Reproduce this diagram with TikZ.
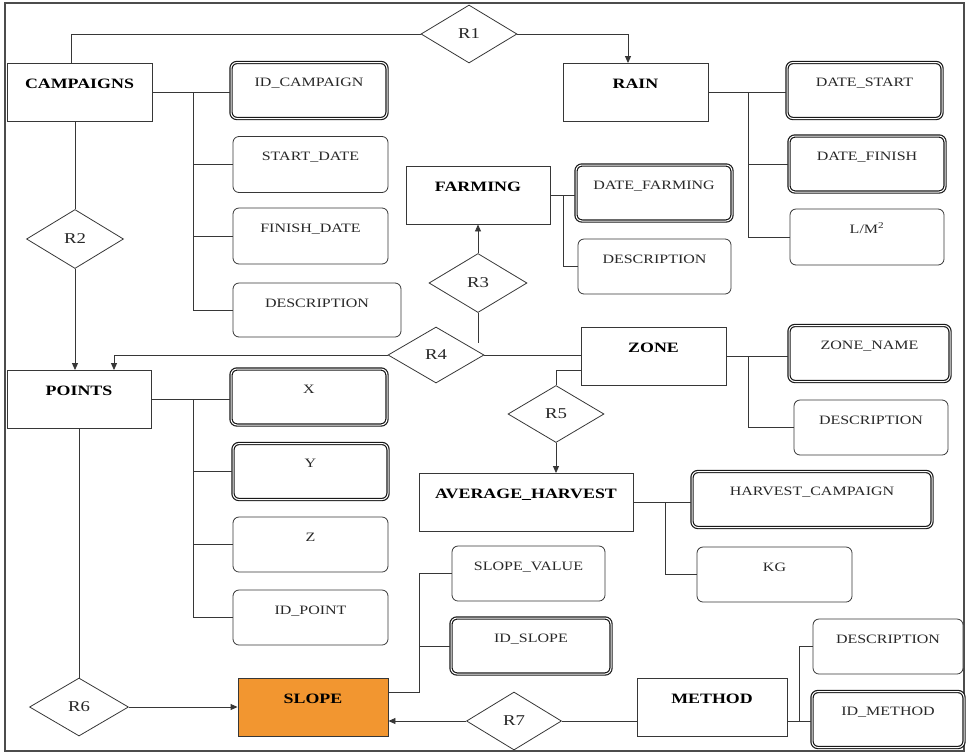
\documentclass[tikz,border=0pt]{standalone}
\usepackage{fontspec}
\setmainfont{Liberation Serif}[FakeStretch=1.25]
\usetikzlibrary{shapes.geometric,arrows.meta,calc}
\definecolor{ln}{RGB}{55,55,55}
\definecolor{txt}{RGB}{40,40,40}
\definecolor{slopeor}{RGB}{242,150,48}
\begin{document}
\begin{tikzpicture}[x=1pt,y=-1pt,
  every node/.style={inner sep=0pt},
  conn/.style={draw=ln, line width=0.9pt},
  arr/.style={conn, -{Triangle[length=7pt,width=6pt]}},
  ent/.style={draw=ln, line width=0.9pt, fill=white, text=black,
    font=\fontsize{14.3}{16}\selectfont\bfseries, text height=25pt, text depth=33pt},
  att/.style={draw=ln, line width=0.8pt, fill=white, rounded corners=6pt, text=txt,
    font=\fontsize{12.8}{15}\selectfont, text height=24pt, text depth=32pt},
  key/.style={att, draw=black!90, line width=1.2pt, double=white, double distance=1pt},
  rel/.style={diamond, draw=ln, line width=0.8pt, fill=white, text=txt,
    font=\fontsize{15}{16}\selectfont}]
\useasboundingbox (0,0) rectangle (968,753);
\draw[draw=black!70, line width=1.5pt] (5,3) rectangle (964,751);

% entities
\node[ent, minimum width=145pt] (campaigns) at (79.5,92.5) {CAMPAIGNS};
\node[ent, minimum width=145pt] (rain) at (635.5,92.5) {RAIN};
\node[ent, minimum width=144pt] (farming) at (478,195) {FARMING};
\node[ent, minimum width=144pt] (points) at (79,399.5) {POINTS};
\node[ent, minimum width=145pt] (zone) at (653.5,356) {ZONE};
\node[ent, minimum width=214pt] (avg) at (526,502.5) {AVERAGE\_HARVEST};
\node[ent, minimum width=150pt, fill=slopeor] (slope) at (313,707.5) {SLOPE};
\node[ent, minimum width=150pt] (method) at (712,707) {METHOD};

% attributes
\node[key, minimum width=156pt] (idcamp) at (309,90.5) {ID\_CAMPAIGN};
\node[att, minimum width=155pt] (startdate) at (310.5,164.5) {START\_DATE};
\node[att, minimum width=155pt] (finishdate) at (310.5,236) {FINISH\_DATE};
\node[att, minimum width=168pt, text depth=30pt] (cdesc) at (317,310) {DESCRIPTION};
\node[key, minimum width=155pt] (datestart) at (864.5,90.5) {DATE\_START};
\node[key, minimum width=156pt] (datefinish) at (867,164) {DATE\_FINISH};
\node[att, minimum width=154pt] (lm2) at (867,237) {L/M\textsuperscript{2}};
\node[key, minimum width=156pt] (datefarming) at (654,193) {DATE\_FARMING};
\node[att, minimum width=153pt, text depth=31pt] (fdesc) at (654.5,266.5) {DESCRIPTION};
\node[key, minimum width=161pt] (zonename) at (869.5,353.5) {ZONE\_NAME};
\node[att, minimum width=154pt, text depth=31pt] (zdesc) at (871,427.5) {DESCRIPTION};
\node[key, minimum width=156pt] (x) at (309,397) {X};
\node[key, minimum width=155pt] (y) at (310.5,471.5) {Y};
\node[att, minimum width=155pt, text depth=31pt] (z) at (310.5,544.5) {Z};
\node[att, minimum width=155pt, text depth=31pt] (idpoint) at (310.5,617.5) {ID\_POINT};
\node[key, minimum width=240pt] (harvcamp) at (812,499.5) {HARVEST\_CAMPAIGN};
\node[att, minimum width=155pt, text depth=31pt] (kg) at (774.5,574.5) {KG};
\node[att, minimum width=153pt, text depth=31pt] (slopevalue) at (528.5,573.5) {SLOPE\_VALUE};
\node[key, minimum width=160pt] (idslope) at (531,646) {ID\_SLOPE};
\node[att, minimum width=150pt, text depth=31pt] (mdesc) at (888,646.5) {DESCRIPTION};
\node[key, minimum width=152pt] (idmethod) at (888,719.5) {ID\_METHOD};

% relationships
\node[rel, minimum width=96pt, minimum height=58pt] (r1) at (469,34) {R1};
\node[rel, minimum width=97pt, minimum height=59pt] (r2) at (75,239) {R2};
\node[rel, minimum width=98pt, minimum height=59pt] (r3) at (478,283) {R3};
\node[rel, minimum width=96pt, minimum height=56pt] (r4) at (436,355) {R4};
\node[rel, minimum width=96pt, minimum height=57pt] (r5) at (556,414) {R5};
\node[rel, minimum width=99pt, minimum height=58pt] (r6) at (79,707) {R6};
\node[rel, minimum width=95pt, minimum height=58pt] (r7) at (514,721) {R7};

% bus coordinates
\coordinate (cb) at ($(campaigns.east)+(41,0)$);
\coordinate (rb) at ($(rain.east)+(40,0)$);
\coordinate (fb) at ($(farming.east)+(13,0)$);
\coordinate (zb) at ($(zone.east)+(22,0)$);
\coordinate (ab) at ($(avg.east)+(32,0)$);
\coordinate (pb) at ($(points.east)+(42,0)$);
\coordinate (s0) at ($(slope.east)+(0,-15.5)$);
\coordinate (sb) at ($(slope.east)+(31,-15.5)$);
\coordinate (m0) at ($(method.east)+(0,14)$);
\coordinate (mb) at ($(method.east)+(12,14)$);
\coordinate (z0) at ($(zone.west)+(0,14)$);
\coordinate (r3end) at ($(r3.south)+(0,30)$);

% relationship connectors
\draw[conn] ([xshift=-8.5pt]campaigns.north) |- (r1.west);
\draw[arr] (r1.east) -| ([xshift=-7.5pt]rain.north);
\draw[conn] (r2.north |- campaigns.south) -- (r2.north);
\draw[arr] (r2.south) -- (r2.south |- points.north);
\draw[arr] (r3.north) -- (r3.north |- farming.south);
\draw[conn] (r3.south) -- (r3end);
\draw[conn] (r4.east) -- (r4.east -| zone.west);
\draw[arr] (r4.west) -| ([xshift=35pt]points.north);
\draw[conn] (z0) -| (r5.north);
\draw[arr] (r5.south) -- (r5.south |- avg.north);
\draw[conn] (r6.north |- points.south) -- (r6.north);
\draw[arr] (r6.east) -- (r6.east -| slope.west);
\draw[arr] (r7.west) -- (r7.west -| slope.east);
\draw[conn] (r7.east) -- (r7.east -| method.west);

% attribute connectors
\draw[conn] (campaigns.east) -- (campaigns.east -| idcamp.west);
\draw[conn] (cb) |- (startdate.west);
\draw[conn] (cb) |- (finishdate.west);
\draw[conn] (cb) |- (cdesc.west);
\draw[conn] (rain.east) -- (rain.east -| datestart.west);
\draw[conn] (rb) |- (datefinish.west);
\draw[conn] (rb) |- (lm2.west);
\draw[conn] (farming.east) -- (farming.east -| datefarming.west);
\draw[conn] (fb) |- (fdesc.west);
\draw[conn] (zone.east) -- (zone.east -| zonename.west);
\draw[conn] (zb) |- (zdesc.west);
\draw[conn] (avg.east) -- (avg.east -| harvcamp.west);
\draw[conn] (ab) |- (kg.west);
\draw[conn] (points.east) -- (points.east -| x.west);
\draw[conn] (pb) |- (y.west);
\draw[conn] (pb) |- (z.west);
\draw[conn] (pb) |- (idpoint.west);
\draw[conn] (s0) -- (sb) |- (slopevalue.west);
\draw[conn] (sb) |- (idslope.west);
\draw[conn] (m0) -- (m0 -| idmethod.west);
\draw[conn] (mb) |- (mdesc.west);
\end{tikzpicture}
\end{document}
